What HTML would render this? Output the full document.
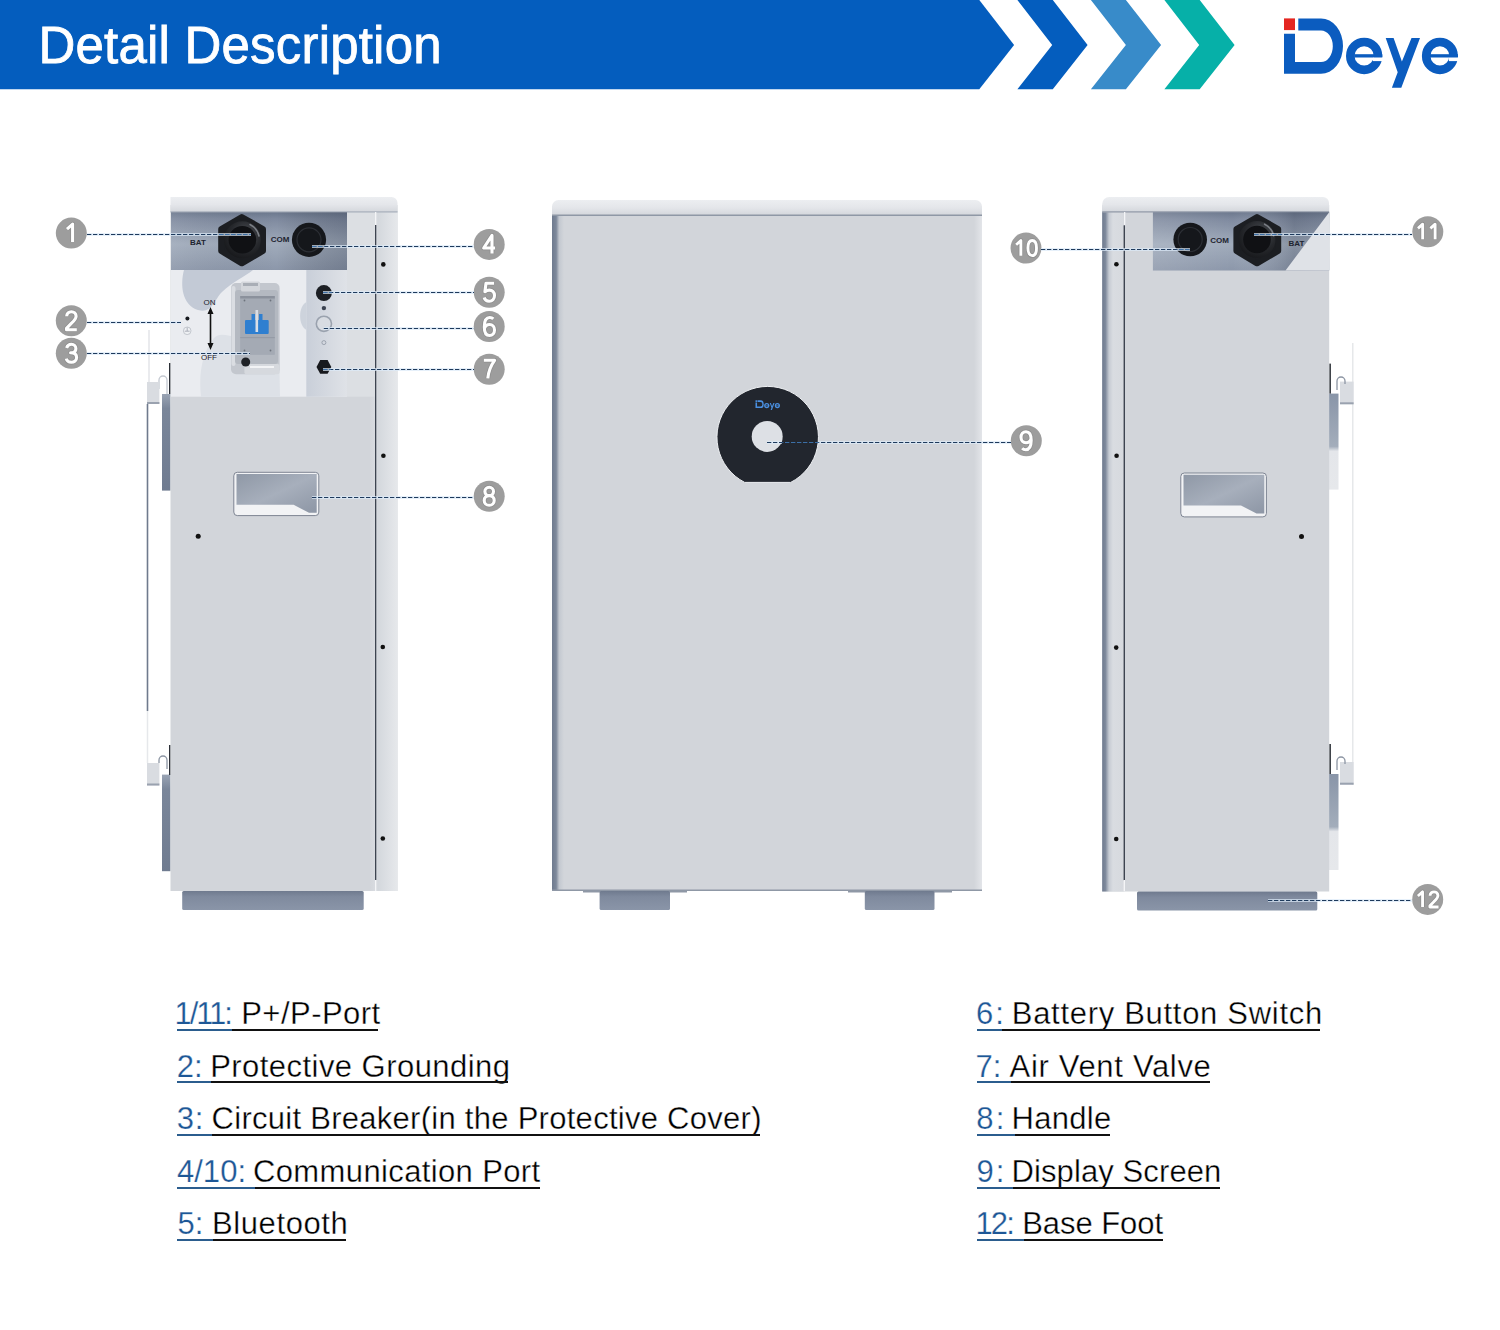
<!DOCTYPE html>
<html><head><meta charset="utf-8">
<style>
html,body{margin:0;padding:0;background:#fff;}
body{width:1500px;height:1330px;position:relative;overflow:hidden;font-family:"Liberation Sans",sans-serif;}
svg{position:absolute;left:0;top:0;}
.p,.d{position:absolute;font-size:31px;line-height:36px;white-space:nowrap;}
.p{color:#1d5796;-webkit-text-stroke:0.25px #fff;}
.d{color:#000;-webkit-text-stroke:0.35px #fff;}
.u{position:absolute;height:1.5px;}
</style></head>
<body>
<svg width="1500" height="1330" viewBox="0 0 1500 1330">
<defs>
<linearGradient id="gCap" x1="0" y1="0" x2="0" y2="1"><stop offset="0" stop-color="#eceef1"/><stop offset="0.5" stop-color="#e4e6ea"/><stop offset="1" stop-color="#d3d6db"/></linearGradient>
<linearGradient id="gRecess" x1="0" y1="0" x2="0" y2="1"><stop offset="0" stop-color="#6d798e"/><stop offset="0.12" stop-color="#7f8a9f"/><stop offset="0.55" stop-color="#a0abbb"/><stop offset="1" stop-color="#8c97aa"/></linearGradient>
<linearGradient id="gRecessH" x1="0" y1="0" x2="1" y2="0"><stop offset="0" stop-color="#fff" stop-opacity="0.08"/><stop offset="0.6" stop-color="#000" stop-opacity="0"/><stop offset="1" stop-color="#1a2233" stop-opacity="0.22"/></linearGradient>
<linearGradient id="gRecessH2" x1="0" y1="0" x2="1" y2="0"><stop offset="0" stop-color="#fff" stop-opacity="0.12"/><stop offset="0.45" stop-color="#fff" stop-opacity="0"/><stop offset="0.8" stop-color="#1a2233" stop-opacity="0.2"/><stop offset="1" stop-color="#1a2233" stop-opacity="0.1"/></linearGradient>
<linearGradient id="gRStrip" x1="0" y1="0" x2="1" y2="0"><stop offset="0" stop-color="#d3d6db"/><stop offset="0.2" stop-color="#d8dbe0"/><stop offset="0.3" stop-color="#d4d8dd"/><stop offset="1" stop-color="#e6e8eb"/></linearGradient>
<linearGradient id="gBtnPanel" x1="0" y1="0" x2="1" y2="0"><stop offset="0" stop-color="#c9cfd9"/><stop offset="1" stop-color="#dfe2e7"/></linearGradient>
<linearGradient id="gStrip" x1="0" y1="0" x2="0" y2="1"><stop offset="0" stop-color="#9aa4b4"/><stop offset="0.15" stop-color="#7a869a"/><stop offset="1" stop-color="#6f7b90"/></linearGradient>
<linearGradient id="gStripR" x1="0" y1="0" x2="0" y2="1"><stop offset="0" stop-color="#8995a8"/><stop offset="0.55" stop-color="#a3adbb"/><stop offset="0.6" stop-color="#e4e6ea"/><stop offset="1" stop-color="#e6e8eb"/></linearGradient>
<linearGradient id="gHandle" x1="0" y1="0" x2="1" y2="1"><stop offset="0" stop-color="#8f98a6"/><stop offset="0.5" stop-color="#a7afbc"/><stop offset="1" stop-color="#8d96a5"/></linearGradient>
<linearGradient id="gFoot" x1="0" y1="0" x2="0" y2="1"><stop offset="0" stop-color="#6f7a8e"/><stop offset="0.3" stop-color="#7f8a9e"/><stop offset="1" stop-color="#8a95a8"/></linearGradient>
<linearGradient id="gLeftEdge" x1="0" y1="0" x2="1" y2="0"><stop offset="0" stop-color="#6f7b8f"/><stop offset="0.35" stop-color="#7e899b"/><stop offset="0.6" stop-color="#c3c8d0"/><stop offset="1" stop-color="#d2d5da"/></linearGradient>
<linearGradient id="gRightEdge" x1="0" y1="0" x2="1" y2="0"><stop offset="0" stop-color="#d2d5da"/><stop offset="1" stop-color="#e3e5e9"/></linearGradient>
<radialGradient id="gNutRing" cx="0.6" cy="0.35" r="0.7"><stop offset="0" stop-color="#4a4d53"/><stop offset="0.6" stop-color="#26282c"/><stop offset="1" stop-color="#17181b"/></radialGradient>
<linearGradient id="gLeftStripR" x1="0" y1="0" x2="1" y2="0"><stop offset="0" stop-color="#6f7b8f"/><stop offset="0.15" stop-color="#7e899b"/><stop offset="0.32" stop-color="#c6cbd3"/><stop offset="0.5" stop-color="#d9dce1"/><stop offset="1" stop-color="#d6d9de"/></linearGradient>
<clipPath id="clipDisp"><rect x="782.5" y="430" width="36" height="20"/></clipPath>
<clipPath id="clipDark">
<rect x="218" y="214" width="48" height="53"/>
<circle cx="309" cy="239.8" r="17.1"/>
<rect x="1233.6" y="214" width="48" height="53"/>
<circle cx="1190.2" cy="239.5" r="16.8"/>
<circle cx="323.9" cy="293.1" r="8"/>
<circle cx="323.9" cy="366.9" r="7.5"/>
</clipPath>
</defs>
<!-- header -->
<polygon points="0,0 979.3,0 1014.1,44.9 979.3,89.3 0,89.3" fill="#045dbe"/>
<polygon points="1017.4,0 1052.8,0 1087.6,44.9 1052.8,89.3 1017.4,89.3 1052.2,44.9" fill="#045dbe"/>
<polygon points="1090.9,0 1125.9,0 1161.1,44.9 1125.9,89.3 1090.9,89.3 1125.9,44.9" fill="#388bc9"/>
<polygon points="1164.4,0 1199.7,0 1234.6,44.9 1199.7,89.3 1164.4,89.3 1199.2,44.9" fill="#06b0a8"/>
<text x="38.5" y="63" font-family="Liberation Sans" font-size="51" fill="#fff" stroke="#fff" stroke-width="0.8" letter-spacing="0.2">Detail Description</text>
<!-- logo -->
<rect x="1284" y="18.4" width="11" height="11.7" fill="#e42621"/>
<g fill="#0b5cbf">
<path d="M1284,73.8 V33.8 H1295 V62 H1321 A11.8,15.75 0 0 0 1321,30.5 H1298.3 V18.4 H1321 A22,27.7 0 0 1 1321,73.8 Z"/>
<path d="M1385.7,37.9 H1393.6 L1401.9,61.4 L1411.5,37.9 H1420 L1401.3,87.8 H1391.9 L1397.7,72.3 Z"/>
<rect x="1354.2" y="54.2" width="28.1" height="3.3"/>
<rect x="1430" y="54.2" width="28" height="3.3"/>
</g>
<g fill="none" stroke="#0b5cbf" stroke-width="8.6">
<ellipse cx="1364.15" cy="55.9" rx="13.85" ry="13.95"/>
<ellipse cx="1439.9" cy="55.9" rx="13.7" ry="13.95"/>
</g>
<rect x="1373" y="57.5" width="12" height="3.6" fill="#fff"/>
<rect x="1449" y="57.5" width="12" height="3.6" fill="#fff"/>

<!-- ===== LEFT PRODUCT ===== -->
<g id="L">
<!-- bracket -->
<path d="M149,330 V383" stroke="#e3e5e8" stroke-width="1.5" fill="none"/>
<path d="M147.5,404 V711" stroke="#6f7a8d" stroke-width="1.6" fill="none"/>
<path d="M147.5,711 V763" stroke="#e6e8eb" stroke-width="1.5" fill="none"/>
<path d="M159,389 v-9 a4,4 0 0 1 8,0 v14" stroke="#c4c9d1" stroke-width="1.3" fill="none"/>
<rect x="147" y="382" width="12.4" height="22" fill="#d9dce1"/>
<rect x="147" y="402" width="12.4" height="2" fill="#9aa2af"/>
<rect x="162" y="394" width="8.5" height="96.6" fill="url(#gStrip)"/>
<rect x="169" y="363" width="1.6" height="31" fill="#2b2f36"/>
<path d="M167,769 v-9 a4,4 0 0 0 -8,0 v3" stroke="#8d96a4" stroke-width="1.3" fill="none"/>
<rect x="147" y="763" width="12.4" height="22.5" fill="#d9dce1"/>
<rect x="147" y="783.5" width="12.4" height="2" fill="#9aa2af"/>
<rect x="162" y="774.6" width="8.5" height="96.6" fill="url(#gStrip)"/>
<rect x="169" y="745" width="1.6" height="30" fill="#2b2f36"/>
<!-- body -->
<rect x="170.5" y="205" width="227" height="686" fill="#d2d5da"/>
<rect x="370" y="212" width="27.5" height="679" fill="url(#gRStrip)"/>
<path d="M170.5,212.3 V197 H391.5 a6,6 0 0 1 6,6 V212.3 Z" fill="url(#gCap)"/>
<rect x="347" y="212.3" width="28" height="184.4" fill="#dcdfe3"/>
<rect x="170.5" y="211.3" width="227" height="1.2" fill="#a7afbb"/>
<rect x="171" y="212.3" width="176" height="57.7" fill="url(#gRecess)"/>
<rect x="171" y="212.3" width="176" height="57.7" fill="url(#gRecessH)"/>
<!-- lower recess -->
<rect x="171" y="270" width="176" height="126.7" fill="#eaecf0"/>
<path d="M184,270 C180,285 182,305 198,310 C212,314 214,300 222,292 C232,282 246,276 253,270 Z" fill="#c3cad6"/>
<path d="M201,396.7 C198,370 204,350 214,338 C222,330 232,340 244,336 C262,330 272,312 278,300 L280,396.7 Z" fill="#dde1e7"/>
<rect x="306.3" y="270" width="40.7" height="126.7" fill="url(#gBtnPanel)"/>
<path d="M306.5,302 C298,306 298,326 306.5,330 Z" fill="#cdd3dc"/>
<!-- breaker -->
<rect x="231" y="283" width="48.6" height="91.2" rx="5" fill="#c3c7ce"/>
<rect x="231.5" y="286" width="4" height="80" rx="2" fill="#dadde2"/>
<rect x="235" y="290" width="43" height="74" rx="3" fill="#b4b9c1"/>
<rect x="240.2" y="296" width="34.6" height="58.8" fill="#a4aab4"/>
<rect x="240.2" y="296" width="34.6" height="2.5" fill="#8b919c"/>
<rect x="240.2" y="337" width="34.6" height="1.2" fill="#959ba6"/>
<circle cx="244.5" cy="300.5" r="0.9" fill="#6d737d"/><circle cx="270.5" cy="300.5" r="0.9" fill="#6d737d"/>
<circle cx="244.5" cy="350.5" r="0.9" fill="#6d737d"/><circle cx="270.5" cy="350.5" r="0.9" fill="#6d737d"/>
<rect x="245" y="320" width="23.7" height="14" rx="1" fill="#2f7fd0"/>
<rect x="251.5" y="314" width="3.5" height="9" fill="#2f7fd0"/>
<rect x="259" y="314" width="3.5" height="9" fill="#2f7fd0"/>
<rect x="255.5" y="310" width="2.6" height="22" fill="#d9dee6"/>
<rect x="241" y="281.5" width="19" height="10" rx="1.5" fill="#d3d6db"/>
<rect x="243" y="283" width="15" height="3" fill="#a9aeb6"/>
<rect x="244.4" y="364" width="35.2" height="10.2" rx="2" fill="#d6d9de"/>
<rect x="250" y="366" width="24" height="2" fill="#f2f3f5"/>
<circle cx="245.7" cy="362" r="4.5" fill="#1e2126"/>
<!-- on/off -->
<text x="209.5" y="304.5" font-family="Liberation Sans" font-size="8" fill="#1d222b" text-anchor="middle">ON</text>
<text x="209" y="359.5" font-family="Liberation Sans" font-size="8" fill="#1d222b" text-anchor="middle">OFF</text>
<rect x="209.7" y="312" width="1.6" height="33" fill="#111"/>
<path d="M210.5,307 l-3,7 h6 Z M210.5,350 l-3,-7 h6 Z" fill="#111"/>
<circle cx="187.4" cy="318.4" r="2" fill="#15181d"/>
<circle cx="187.2" cy="330.8" r="3.8" fill="#eef0f3" stroke="#b7bcc4" stroke-width="0.8"/>
<path d="M187.2,327.5 v3.5 M184.8,331.2 h4.8" stroke="#9aa0aa" stroke-width="0.8"/>
<!-- buttons -->
<circle cx="323.9" cy="293.1" r="8" fill="#1c1f24"/>
<circle cx="323.9" cy="308.1" r="2.2" fill="#3a4250"/>
<circle cx="323.9" cy="323.8" r="7.6" fill="#d8dce2" stroke="#9aa2ae" stroke-width="1.6"/>
<circle cx="323.9" cy="342.6" r="2" fill="none" stroke="#8f97a3" stroke-width="0.8"/>
<path d="M316.5,366.9 l3.7,-6.8 h7.4 l3.7,6.8 l-3.7,6.8 h-7.4 Z" fill="#17191d"/>
<!-- ports -->
<polygon points="241.8,217 263,229 263,251 241.8,263.3 221.2,251 221.2,229" fill="#1c1e22" stroke="#1c1e22" stroke-width="6" stroke-linejoin="round"/>
<circle cx="242.4" cy="239.8" r="18.5" fill="url(#gNutRing)"/>
<circle cx="242.4" cy="239.8" r="13.8" fill="#101114"/>
<path d="M250,224.5 A17,17 0 0 1 259,236" stroke="#7a7e85" stroke-width="1.6" fill="none" stroke-linecap="round"/>
<circle cx="309" cy="239.8" r="17.1" fill="#15171b"/>
<circle cx="309" cy="239.8" r="12" fill="none" stroke="#2c2f35" stroke-width="1.2"/>
<text x="198" y="244.6" font-family="Liberation Sans" font-weight="bold" font-size="8" fill="#1e2430" text-anchor="middle">BAT</text>
<text x="280" y="241.6" font-family="Liberation Sans" font-weight="bold" font-size="8" fill="#1e2430" text-anchor="middle">COM</text>
<!-- right strip details -->
<rect x="375" y="212" width="1.3" height="13" fill="#f4f5f7"/>
<rect x="375" y="225" width="1.3" height="655" fill="#3d4450"/>
<rect x="375" y="880" width="1.3" height="11" fill="#f4f5f7"/>
<g fill="#111">
<circle cx="383.3" cy="264.4" r="2.3"/>
<circle cx="383.4" cy="455.7" r="2.3"/>
<circle cx="382.8" cy="647" r="2.3"/>
<circle cx="382.8" cy="838.5" r="2.3"/>
<circle cx="198.2" cy="536.2" r="2.5"/>
</g>
<!-- handle -->
<rect x="233.8" y="472.3" width="85" height="43.3" rx="3.5" fill="#f2f3f5" stroke="#7d8492" stroke-width="1"/>
<path d="M236.5,474 H316.7 V512.8 H309 L293.6,504.8 H236.5 Z" fill="url(#gHandle)"/>
<!-- foot -->
<rect x="182.2" y="891" width="181.5" height="19" rx="1.5" fill="url(#gFoot)"/>
</g>

<!-- ===== MIDDLE PRODUCT ===== -->
<g id="M">
<rect x="552" y="208" width="430" height="683" fill="#d2d5da"/>
<rect x="552" y="215" width="12" height="676" fill="url(#gLeftEdge)"/>
<rect x="974" y="215" width="8" height="676" fill="url(#gRightEdge)"/>
<path d="M552,215.5 V206.5 a6.5,6.5 0 0 1 6.5,-6.5 H975.5 a6.5,6.5 0 0 1 6.5,6.5 V215.5 Z" fill="url(#gCap)"/>
<rect x="552" y="214.5" width="430" height="1.5" fill="#8f98a6"/>
<rect x="552" y="889.5" width="430" height="1.5" fill="#8f98a6"/>
<rect x="583" y="891" width="104" height="1.5" fill="#8f98a6"/>
<rect x="848" y="891" width="104" height="1.5" fill="#8f98a6"/>
<rect x="599.6" y="891" width="70.4" height="19" rx="1.5" fill="url(#gFoot)"/>
<rect x="864.8" y="891" width="69.7" height="19" rx="1.5" fill="url(#gFoot)"/>
<path d="M744.7,482.4 A50.75,50.75 0 1 1 790.7,482.4 Z" fill="#22262e" stroke="#eef0f3" stroke-width="1"/>
<circle cx="767.2" cy="436.4" r="15.5" fill="#dde0e5"/>
<g transform="translate(755.5,400.3) scale(0.1402) translate(-1284,-18.4)">
<rect x="1284" y="18.4" width="11" height="11.7" fill="#4a8fe0"/>
<g fill="#4a8fe0">
<path d="M1284,73.8 V33.8 H1295 V62 H1321 A11.8,15.75 0 0 0 1321,30.5 H1298.3 V18.4 H1321 A22,27.7 0 0 1 1321,73.8 Z"/>
<path d="M1385.7,37.9 H1393.6 L1401.9,61.4 L1411.5,37.9 H1420 L1401.3,87.8 H1391.9 L1397.7,72.3 Z"/>
<rect x="1354.2" y="54.2" width="28.1" height="3.3"/>
<rect x="1430" y="54.2" width="28" height="3.3"/>
</g>
<g fill="none" stroke="#4a8fe0" stroke-width="9.5">
<ellipse cx="1364.15" cy="55.9" rx="13.85" ry="13.95"/>
<ellipse cx="1439.9" cy="55.9" rx="13.7" ry="13.95"/>
</g>
</g>
</g>

<!-- ===== RIGHT PRODUCT ===== -->
<g id="R">
<!-- bracket -->
<path d="M1352.8,343 V785" stroke="#e2e4e7" stroke-width="1.3" fill="none"/>
<rect x="1340" y="381.6" width="13.6" height="22.5" fill="#d9dce1"/>
<rect x="1340" y="402.3" width="13.6" height="2" fill="#9aa2af"/>
<path d="M1337,390 v-9 a4,4 0 0 1 8,0 v3" stroke="#8d96a4" stroke-width="1.3" fill="none"/>
<rect x="1329" y="393.6" width="9.5" height="96" fill="url(#gStripR)"/>
<rect x="1329.3" y="363.6" width="1.6" height="30" fill="#2b2f36"/>
<rect x="1340" y="762" width="13.6" height="22.5" fill="#d9dce1"/>
<rect x="1340" y="782.7" width="13.6" height="2" fill="#9aa2af"/>
<path d="M1337,770 v-9 a4,4 0 0 1 8,0 v3" stroke="#8d96a4" stroke-width="1.3" fill="none"/>
<rect x="1329" y="774" width="9.5" height="96" fill="url(#gStripR)"/>
<rect x="1329.3" y="744" width="1.6" height="30" fill="#2b2f36"/>
<!-- body -->
<rect x="1102.2" y="205" width="227" height="686.5" fill="#d2d5da"/>
<rect x="1102.2" y="212" width="21.5" height="679.5" fill="url(#gLeftStripR)"/>
<path d="M1102.2,212.2 V204 a7,7 0 0 1 7,-7 H1323 a6,6 0 0 1 6,6 V212.2 Z" fill="url(#gCap)"/>
<rect x="1102.2" y="211.3" width="227" height="1.2" fill="#8f98a6"/>
<rect x="1152.9" y="212.2" width="176.3" height="58.3" fill="url(#gRecess)"/>
<rect x="1152.9" y="212.2" width="176.3" height="58.3" fill="url(#gRecessH2)"/>
<path d="M1329.2,212.2 V270.5 H1285.5 Z" fill="#dfe2e7"/>
<rect x="1124" y="212" width="1.3" height="13.3" fill="#f4f5f7"/>
<rect x="1123.6" y="225.3" width="1.4" height="655" fill="#3d4450"/>
<rect x="1123.6" y="880" width="1.4" height="11" fill="#f4f5f7"/>
<!-- ports -->
<polygon points="1257,217 1278.2,229 1278.2,251 1257,263.3 1236.4,251 1236.4,229" fill="#1c1e22" stroke="#1c1e22" stroke-width="6" stroke-linejoin="round"/>
<circle cx="1257" cy="239.5" r="18.5" fill="url(#gNutRing)"/>
<circle cx="1257" cy="239.5" r="13.8" fill="#101114"/>
<path d="M1264.6,224.2 A17,17 0 0 1 1273.6,235.7" stroke="#7a7e85" stroke-width="1.6" fill="none" stroke-linecap="round"/>
<circle cx="1190.2" cy="239.5" r="16.8" fill="#15171b"/>
<circle cx="1190.2" cy="239.5" r="12" fill="none" stroke="#2c2f35" stroke-width="1.2"/>
<text x="1219.5" y="243" font-family="Liberation Sans" font-weight="bold" font-size="8" fill="#1e2430" text-anchor="middle">COM</text>
<text x="1296.5" y="245.5" font-family="Liberation Sans" font-weight="bold" font-size="8" fill="#1e2430" text-anchor="middle">BAT</text>
<g fill="#111">
<circle cx="1116.4" cy="264.2" r="2.3"/>
<circle cx="1116.6" cy="455.8" r="2.3"/>
<circle cx="1116.2" cy="647.6" r="2.3"/>
<circle cx="1116.2" cy="839" r="2.3"/>
<circle cx="1301.5" cy="536.6" r="2.5"/>
</g>
<!-- handle -->
<rect x="1180.8" y="473" width="85.6" height="43.9" rx="3.5" fill="#f2f3f5" stroke="#7d8492" stroke-width="1"/>
<path d="M1183.5,474.7 H1264.3 V513.5 H1256.5 L1241,505.5 H1183.5 Z" fill="url(#gHandle)"/>
<!-- foot -->
<rect x="1137" y="891.6" width="180.3" height="19" rx="1.5" fill="url(#gFoot)"/>
</g>

<!-- labels -->
<g fill="#9d9d9d">
<circle cx="71.3" cy="233.1" r="15.5"/>
<circle cx="71.3" cy="320.7" r="15.5"/>
<circle cx="71.3" cy="353.3" r="15.5"/>
<circle cx="489.2" cy="244.4" r="15.5"/>
<circle cx="489.2" cy="292.2" r="15.5"/>
<circle cx="489.2" cy="326.5" r="15.5"/>
<circle cx="489.2" cy="369.3" r="15.5"/>
<circle cx="489.2" cy="496.3" r="15.5"/>
<circle cx="1026.3" cy="440.7" r="15.5"/>
<circle cx="1026" cy="248.1" r="15.5"/>
<circle cx="1427.8" cy="231.7" r="15.5"/>
<circle cx="1427.7" cy="899.4" r="15.5"/>
</g>
<g fill="none" stroke-linejoin="round">
<path transform="translate(65.80,224.10)" d="M1.2,5 L6.8,0 V18" stroke="#7a7a7a" stroke-opacity="0.45" stroke-width="4.6"/>
<path transform="translate(65.80,224.10)" d="M1.2,5 L6.8,0 V18" stroke="#fff" stroke-width="3.1"/>
<path transform="translate(65.80,311.70)" d="M0.9,4.6 C0.9,1.7 3,0 5.6,0 C8.3,0 10.3,1.8 10.3,4.5 C10.3,7.3 8.4,9.1 5.5,11.7 L0.7,16.6 V18 H11" stroke="#7a7a7a" stroke-opacity="0.45" stroke-width="4.6"/>
<path transform="translate(65.80,311.70)" d="M0.9,4.6 C0.9,1.7 3,0 5.6,0 C8.3,0 10.3,1.8 10.3,4.5 C10.3,7.3 8.4,9.1 5.5,11.7 L0.7,16.6 V18 H11" stroke="#fff" stroke-width="3.1"/>
<path transform="translate(65.80,344.30)" d="M0.8,3.6 C1.6,1.3 3.4,0 5.5,0 C8.4,0 10.1,1.9 10.1,4.4 C10.1,7 8.2,8.5 4.8,8.5 C8.7,8.5 10.8,10.5 10.8,13.3 C10.8,16.2 8.5,18 5.5,18 C3,18 1.1,16.7 0.4,14.3" stroke="#7a7a7a" stroke-opacity="0.45" stroke-width="4.6"/>
<path transform="translate(65.80,344.30)" d="M0.8,3.6 C1.6,1.3 3.4,0 5.5,0 C8.4,0 10.1,1.9 10.1,4.4 C10.1,7 8.2,8.5 4.8,8.5 C8.7,8.5 10.8,10.5 10.8,13.3 C10.8,16.2 8.5,18 5.5,18 C3,18 1.1,16.7 0.4,14.3" stroke="#fff" stroke-width="3.1"/>
<path transform="translate(483.70,235.40)" d="M8.3,18 V0 L0,12.6 H11.3" stroke="#7a7a7a" stroke-opacity="0.45" stroke-width="4.6"/>
<path transform="translate(483.70,235.40)" d="M8.3,18 V0 L0,12.6 H11.3" stroke="#fff" stroke-width="3.1"/>
<path transform="translate(483.70,283.20)" d="M10.3,0 H2.3 L1.2,8.6 C2.4,7.5 3.9,6.9 5.6,6.9 C8.7,6.9 10.8,9.2 10.8,12.3 C10.8,15.7 8.6,18 5.5,18 C2.9,18 1.1,16.6 0.4,14.3" stroke="#7a7a7a" stroke-opacity="0.45" stroke-width="4.6"/>
<path transform="translate(483.70,283.20)" d="M10.3,0 H2.3 L1.2,8.6 C2.4,7.5 3.9,6.9 5.6,6.9 C8.7,6.9 10.8,9.2 10.8,12.3 C10.8,15.7 8.6,18 5.5,18 C2.9,18 1.1,16.6 0.4,14.3" stroke="#fff" stroke-width="3.1"/>
<path transform="translate(483.70,317.50)" d="M9.6,1.4 C8.8,0.5 7.4,0 6,0 C2.4,0 0.6,3.8 0.6,9.4 C0.6,15 2.6,18 5.8,18 C8.8,18 10.8,15.6 10.8,12.4 C10.8,9.2 8.8,7 5.9,7 C3.4,7 1.4,8.7 0.7,11" stroke="#7a7a7a" stroke-opacity="0.45" stroke-width="4.6"/>
<path transform="translate(483.70,317.50)" d="M9.6,1.4 C8.8,0.5 7.4,0 6,0 C2.4,0 0.6,3.8 0.6,9.4 C0.6,15 2.6,18 5.8,18 C8.8,18 10.8,15.6 10.8,12.4 C10.8,9.2 8.8,7 5.9,7 C3.4,7 1.4,8.7 0.7,11" stroke="#fff" stroke-width="3.1"/>
<path transform="translate(483.70,360.30)" d="M0.2,0 H10.9 C7.4,4.8 4.8,10.5 4.1,18" stroke="#7a7a7a" stroke-opacity="0.45" stroke-width="4.6"/>
<path transform="translate(483.70,360.30)" d="M0.2,0 H10.9 C7.4,4.8 4.8,10.5 4.1,18" stroke="#fff" stroke-width="3.1"/>
<path transform="translate(483.70,487.30)" d="M5.5,8.3 C3,8.3 1.2,6.6 1.2,4.2 C1.2,1.8 3,0 5.5,0 C8,0 9.8,1.8 9.8,4.2 C9.8,6.6 8,8.3 5.5,8.3 C2.6,8.3 0.5,10.3 0.5,13.1 C0.5,16 2.6,18 5.5,18 C8.4,18 10.5,16 10.5,13.1 C10.5,10.3 8.4,8.3 5.5,8.3 Z" stroke="#7a7a7a" stroke-opacity="0.45" stroke-width="4.6"/>
<path transform="translate(483.70,487.30)" d="M5.5,8.3 C3,8.3 1.2,6.6 1.2,4.2 C1.2,1.8 3,0 5.5,0 C8,0 9.8,1.8 9.8,4.2 C9.8,6.6 8,8.3 5.5,8.3 C2.6,8.3 0.5,10.3 0.5,13.1 C0.5,16 2.6,18 5.5,18 C8.4,18 10.5,16 10.5,13.1 C10.5,10.3 8.4,8.3 5.5,8.3 Z" stroke="#fff" stroke-width="3.1"/>
<path transform="translate(1020.80,431.70) rotate(180 5.5 9)" d="M9.6,1.4 C8.8,0.5 7.4,0 6,0 C2.4,0 0.6,3.8 0.6,9.4 C0.6,15 2.6,18 5.8,18 C8.8,18 10.8,15.6 10.8,12.4 C10.8,9.2 8.8,7 5.9,7 C3.4,7 1.4,8.7 0.7,11" stroke="#7a7a7a" stroke-opacity="0.45" stroke-width="4.6"/>
<path transform="translate(1020.80,431.70) rotate(180 5.5 9)" d="M9.6,1.4 C8.8,0.5 7.4,0 6,0 C2.4,0 0.6,3.8 0.6,9.4 C0.6,15 2.6,18 5.8,18 C8.8,18 10.8,15.6 10.8,12.4 C10.8,9.2 8.8,7 5.9,7 C3.4,7 1.4,8.7 0.7,11" stroke="#fff" stroke-width="3.1"/>
<path transform="translate(1015.16,240.54) scale(0.84)" d="M1.2,5 L6.8,0 V18" stroke="#7a7a7a" stroke-opacity="0.45" stroke-width="5.2"/>
<path transform="translate(1015.16,240.54) scale(0.84)" d="M1.2,5 L6.8,0 V18" stroke="#fff" stroke-width="3.4"/>
<path transform="translate(1027.60,240.54) scale(0.84)" d="M5.5,0 C8.6,0 10.6,3.6 10.6,9 C10.6,14.4 8.6,18 5.5,18 C2.4,18 0.4,14.4 0.4,9 C0.4,3.6 2.4,0 5.5,0 Z" stroke="#7a7a7a" stroke-opacity="0.45" stroke-width="5.2"/>
<path transform="translate(1027.60,240.54) scale(0.84)" d="M5.5,0 C8.6,0 10.6,3.6 10.6,9 C10.6,14.4 8.6,18 5.5,18 C2.4,18 0.4,14.4 0.4,9 C0.4,3.6 2.4,0 5.5,0 Z" stroke="#fff" stroke-width="3.4"/>
<path transform="translate(1416.96,224.14) scale(0.84)" d="M1.2,5 L6.8,0 V18" stroke="#7a7a7a" stroke-opacity="0.45" stroke-width="5.2"/>
<path transform="translate(1416.96,224.14) scale(0.84)" d="M1.2,5 L6.8,0 V18" stroke="#fff" stroke-width="3.4"/>
<path transform="translate(1429.40,224.14) scale(0.84)" d="M1.2,5 L6.8,0 V18" stroke="#7a7a7a" stroke-opacity="0.45" stroke-width="5.2"/>
<path transform="translate(1429.40,224.14) scale(0.84)" d="M1.2,5 L6.8,0 V18" stroke="#fff" stroke-width="3.4"/>
<path transform="translate(1416.86,891.84) scale(0.84)" d="M1.2,5 L6.8,0 V18" stroke="#7a7a7a" stroke-opacity="0.45" stroke-width="5.2"/>
<path transform="translate(1416.86,891.84) scale(0.84)" d="M1.2,5 L6.8,0 V18" stroke="#fff" stroke-width="3.4"/>
<path transform="translate(1429.30,891.84) scale(0.84)" d="M0.9,4.6 C0.9,1.7 3,0 5.6,0 C8.3,0 10.3,1.8 10.3,4.5 C10.3,7.3 8.4,9.1 5.5,11.7 L0.7,16.6 V18 H11" stroke="#7a7a7a" stroke-opacity="0.45" stroke-width="5.2"/>
<path transform="translate(1429.30,891.84) scale(0.84)" d="M0.9,4.6 C0.9,1.7 3,0 5.6,0 C8.3,0 10.3,1.8 10.3,4.5 C10.3,7.3 8.4,9.1 5.5,11.7 L0.7,16.6 V18 H11" stroke="#fff" stroke-width="3.4"/>
</g>
<g stroke="#dbe9f8" stroke-opacity="0.7" stroke-width="3" fill="none">
<line x1="87" y1="234.5" x2="251" y2="234.5"/>
<line x1="87" y1="322.5" x2="181" y2="322.5"/>
<line x1="87" y1="353.5" x2="250" y2="353.5"/>
<line x1="312" y1="246.5" x2="474" y2="246.5"/>
<line x1="323" y1="292.5" x2="474" y2="292.5"/>
<line x1="323.8" y1="328.5" x2="474" y2="328.5"/>
<line x1="323" y1="369.5" x2="474" y2="369.5"/>
<line x1="312" y1="497.5" x2="474" y2="497.5"/>
<line x1="767" y1="442.5" x2="782" y2="442.5"/>
<line x1="818" y1="442.5" x2="1011" y2="442.5"/>
<line x1="1041" y1="249.5" x2="1190" y2="249.5"/>
<line x1="1254" y1="234.5" x2="1412" y2="234.5"/>
<line x1="1268" y1="900.5" x2="1412" y2="900.5"/>
</g>
<g stroke="#1e3a5c" stroke-width="1" stroke-dasharray="4.3 1.7" fill="none">
<line x1="87" y1="234.5" x2="251" y2="234.5"/>
<line x1="87" y1="322.5" x2="181" y2="322.5"/>
<line x1="87" y1="353.5" x2="250" y2="353.5"/>
<line x1="312" y1="246.5" x2="474" y2="246.5"/>
<line x1="323" y1="292.5" x2="474" y2="292.5"/>
<line x1="323.8" y1="328.5" x2="474" y2="328.5"/>
<line x1="323" y1="369.5" x2="474" y2="369.5"/>
<line x1="312" y1="497.5" x2="474" y2="497.5"/>
<line x1="767" y1="442.5" x2="1011" y2="442.5"/>
<line x1="1041" y1="249.5" x2="1190" y2="249.5"/>
<line x1="1254" y1="234.5" x2="1412" y2="234.5"/>
<line x1="1268" y1="900.5" x2="1412" y2="900.5"/>
</g>
<g stroke="#3c6fa6" stroke-width="1" stroke-dasharray="4.3 1.7" fill="none" clip-path="url(#clipDark)">
<line x1="87" y1="234.5" x2="251" y2="234.5"/>
<line x1="312" y1="246.5" x2="474" y2="246.5"/>
<line x1="323" y1="292.5" x2="474" y2="292.5"/>
<line x1="323" y1="369.5" x2="474" y2="369.5"/>
<line x1="1041" y1="249.5" x2="1190" y2="249.5"/>
<line x1="1254" y1="234.5" x2="1412" y2="234.5"/>
</g>
<line x1="767" y1="442.5" x2="1011" y2="442.5" stroke="#3c6fa6" stroke-width="1" stroke-dasharray="4.3 1.7" clip-path="url(#clipDisp)"/>

</svg>

<!-- LIST START -->
<div class="p" style="left:174.50px;top:996.15px;letter-spacing:-2.100px">1/11:</div>
<div class="d" style="left:241.20px;top:996.15px;letter-spacing:0.475px">P+/P-Port</div>
<div class="u" style="left:177.0px;top:1029px;width:54.6px;background:#2b5d8e"></div>
<div class="u" style="left:231.6px;top:1029px;width:146.8px;background:#111"></div>
<div class="p" style="left:176.70px;top:1048.54px;letter-spacing:0.000px">2:</div>
<div class="d" style="left:210.20px;top:1048.54px;letter-spacing:0.451px">Protective Grounding</div>
<div class="u" style="left:177.0px;top:1081px;width:34.0px;background:#2b5d8e"></div>
<div class="u" style="left:211.0px;top:1081px;width:296.7px;background:#111"></div>
<div class="p" style="left:176.70px;top:1101.04px;letter-spacing:0.800px">3:</div>
<div class="d" style="left:211.60px;top:1101.04px;letter-spacing:0.274px">Circuit Breaker(in the Protective Cover)</div>
<div class="u" style="left:177.0px;top:1134px;width:34.8px;background:#2b5d8e"></div>
<div class="u" style="left:211.8px;top:1134px;width:548.2px;background:#111"></div>
<div class="p" style="left:176.90px;top:1153.74px;letter-spacing:0.050px">4/10:</div>
<div class="d" style="left:253.00px;top:1153.74px;letter-spacing:0.373px">Communication Port</div>
<div class="u" style="left:177.0px;top:1187px;width:78.3px;background:#2b5d8e"></div>
<div class="u" style="left:255.3px;top:1187px;width:284.4px;background:#111"></div>
<div class="p" style="left:177.50px;top:1205.74px;letter-spacing:0.000px">5:</div>
<div class="d" style="left:212.00px;top:1205.74px;letter-spacing:0.600px">Bluetooth</div>
<div class="u" style="left:177.0px;top:1239px;width:35.6px;background:#2b5d8e"></div>
<div class="u" style="left:212.6px;top:1239px;width:133.8px;background:#111"></div>
<div class="p" style="left:975.90px;top:996.15px;letter-spacing:2.000px">6:</div>
<div class="d" style="left:1011.80px;top:996.15px;letter-spacing:0.700px">Battery Button Switch</div>
<div class="u" style="left:977.0px;top:1029px;width:25.0px;background:#2b5d8e"></div>
<div class="u" style="left:1002.0px;top:1029px;width:317.9px;background:#111"></div>
<div class="p" style="left:975.50px;top:1048.54px;letter-spacing:0.000px">7:</div>
<div class="d" style="left:1009.60px;top:1048.54px;letter-spacing:0.679px">Air Vent Valve</div>
<div class="u" style="left:977.0px;top:1081px;width:33.8px;background:#2b5d8e"></div>
<div class="u" style="left:1010.8px;top:1081px;width:198.8px;background:#111"></div>
<div class="p" style="left:976.30px;top:1101.04px;letter-spacing:2.200px">8:</div>
<div class="d" style="left:1011.50px;top:1101.04px;letter-spacing:0.280px">Handle</div>
<div class="u" style="left:977.0px;top:1134px;width:37.5px;background:#2b5d8e"></div>
<div class="u" style="left:1014.5px;top:1134px;width:95.7px;background:#111"></div>
<div class="p" style="left:976.50px;top:1153.74px;letter-spacing:2.000px">9:</div>
<div class="d" style="left:1011.50px;top:1153.74px;letter-spacing:0.103px">Display Screen</div>
<div class="u" style="left:977.0px;top:1187px;width:36.2px;background:#2b5d8e"></div>
<div class="u" style="left:1013.2px;top:1187px;width:206.5px;background:#111"></div>
<div class="p" style="left:975.50px;top:1205.74px;letter-spacing:-1.900px">12:</div>
<div class="d" style="left:1022.20px;top:1205.74px;letter-spacing:-0.056px">Base Foot</div>
<div class="u" style="left:977.0px;top:1239px;width:46.8px;background:#2b5d8e"></div>
<div class="u" style="left:1023.8px;top:1239px;width:138.9px;background:#111"></div>
<!-- LIST END -->
</body></html>
